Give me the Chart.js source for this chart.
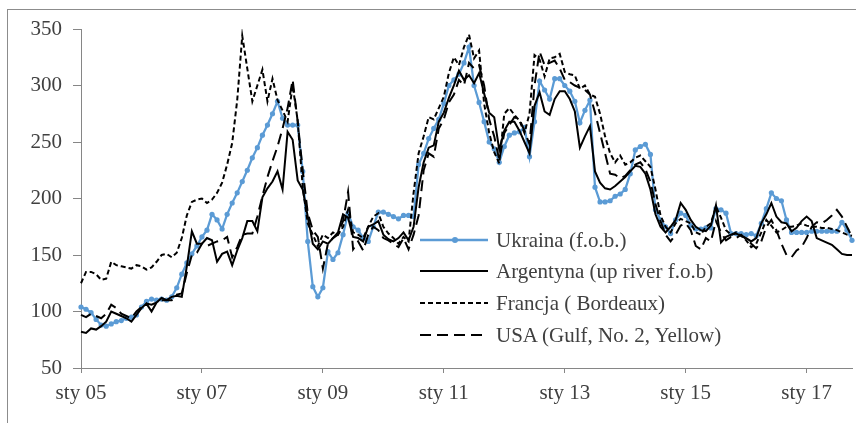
<!DOCTYPE html>
<html>
<head>
<meta charset="utf-8">
<title>Ceny kukurydzy</title>
<script src="https://cdn.jsdelivr.net/npm/chart.js"></script>
<style>
    html, body { margin: 0; padding: 0; background: #fff; }
    #wrap { position: relative; width: 856px; height: 423px; overflow: hidden; }
    #ramka { position: absolute; left: 7px; top: 9px; width: 900px; height: 500px; border: 1px solid #8c8c8c; }
    #wykres { position: absolute; left: 0; top: 0; }
    .wiersz { position: absolute; left: 420px; height: 24px; display: flex; align-items: center; white-space: nowrap;
              font-family: "Liberation Serif", "Times New Roman", serif; font-size: 21px; color: #404040; }
    .wiersz svg { margin-right: 8px; }
</style>
</head>
<body>
<div id="wrap">
    <div id="ramka"></div>
    <canvas id="wykres" width="856" height="423"></canvas>
    <div id="legenda"></div>
</div>
<script>
// Dane (USD/t), miesięcznie od sty 05 do paź 17
var _miesiace = ['sty', 'lut', 'mar', 'kwi', 'maj', 'cze', 'lip', 'sie', 'wrz', 'paź', 'lis', 'gru'];
var _lata = ['05', '06', '07', '08', '09', '10', '11', '12', '13', '14', '15', '16', '17'];
var _ostatniMiesiac = 10; // 2017 kończy się na październiku

var _ukraina = [
    104, 102, 99, 93, 88, 87, 89, 91, 92, 94, 95, 97,
    104, 109, 111, 110, 111, 110, 113, 121, 133, 143, 151, 158,
    166, 172, 186, 181, 173, 186, 196, 205, 215, 225, 236, 245,
    256, 265, 275, 286, 271, 265, 265, 265, 224, 162, 122, 113,
    121, 153, 146, 152, 168, 187, 175, 172, 165, 162, 175, 188,
    188, 186, 184, 182, 185, 185, 184, 230, 240, 253, 262, 270,
    284, 300, 305, 310, 320, 334, 300, 285, 268, 250, 244, 232,
    246, 256, 258, 259, 263, 237, 268, 304, 296, 288, 306, 306,
    300, 295, 286, 267, 278, 287, 210, 197, 197, 198, 202, 204,
    208, 222, 243, 246, 248, 239, 190, 181, 175, 169, 181, 187,
    185, 176, 173, 173, 174, 174, 191, 190, 187, 169, 169, 169,
    168, 169, 167, 178, 191, 205, 200, 198, 181, 170, 170, 170,
    170, 171, 171, 171, 171, 171, 171, 179, 172, 163
];
var _argentyna = [
    82, 81, 85, 84, 87, 91, 100, 98, 96, 94, 91, 97,
    103, 107, 100, 108, 112, 110, 113, 114, 113, 140, 171, 160,
    160, 165, 163, 144, 151, 153, 141, 154, 165, 180, 180, 171,
    201, 209, 215, 224, 208, 259, 252, 216, 208, 184, 160, 155,
    162, 160, 165, 170, 186, 183, 166, 165, 162, 175, 177, 180,
    168, 164, 162, 165, 170, 163, 175, 210, 232, 245, 247, 268,
    276, 289, 300, 313, 305, 309, 302, 311, 293, 276, 272, 243,
    260, 268, 268, 260, 250, 240, 282, 294, 277, 274, 288, 295,
    295, 288, 277, 245, 255, 264, 224, 214, 209, 208, 211, 215,
    219, 224, 229, 228, 222, 208, 186, 175, 170, 175, 181, 196,
    190, 181, 175, 172, 171, 176, 194, 161, 166, 168, 169, 167,
    165, 162, 165, 178, 186, 196, 184, 179, 178, 171, 174, 180,
    184, 180, 165, 163, 161, 159, 155, 151, 150, 150
];
var _francja = [
    125, 135, 135, 133, 128, 129, 144, 141, 140, 139, 138, 141,
    140, 137, 139, 144, 150, 151, 148, 152, 165, 185, 197, 199,
    200, 196, 199, 205, 214, 230, 249, 287, 344, 315, 286, 300,
    314, 286, 306, 287, 278, 268, 300, 269, 210, 178, 168, 158,
    168, 165, 170, 168, 175, 190, 170, 168, 165, 175, 184, 187,
    175, 169, 165, 160, 166, 162, 205, 240, 255, 272, 270, 280,
    290, 311, 325, 318, 334, 345, 324, 331, 284, 258, 241, 231,
    275, 280, 274, 269, 258, 275, 327, 323, 308, 324, 325, 328,
    312, 310, 309, 297, 300, 292, 290, 275, 255, 240, 232, 238,
    230, 232, 236, 238, 233, 228, 208, 185, 175, 170, 178, 182,
    180, 178, 170, 168, 175, 178, 193, 183, 172, 168, 170, 167,
    163, 157, 160, 170, 181, 176, 170, 172, 175, 175, 176, 178,
    176, 175, 175, 174, 174, 173, 172, 170, 168, 167
];
var _usa = [
    97, 95, 98, 96, 94, 98, 106, 103, 98, 96, 94, 100,
    104, 107, 106, 108, 110, 110, 110, 115, 116, 134, 150, 152,
    160, 158, 160, 162, 163, 166, 148, 157, 168, 169, 169, 184,
    202, 219, 233, 246, 262, 280, 305, 268, 225, 187, 172, 166,
    138, 160, 165, 168, 180, 206, 155, 162, 154, 168, 175, 172,
    165, 163, 160, 157, 165, 155, 168, 185, 225, 240, 237, 262,
    270, 285, 292, 305, 300, 320, 315, 318, 300, 270, 255, 234,
    258, 265, 272, 270, 260, 248, 300, 330, 318, 320, 322, 315,
    305, 303, 300, 298, 296, 292, 276, 258, 240, 222, 221, 218,
    220, 225, 230, 232, 226, 215, 195, 180, 168, 162, 168, 176,
    178, 172, 158, 155, 165, 162, 180, 170, 163, 166, 165, 168,
    164, 160, 156, 162, 175, 181, 172, 160, 150, 148, 154, 157,
    165, 175, 179, 178, 181, 185, 190, 184, 175, 166
];

var _nazwy = ['Ukraina (f.o.b.)', 'Argentyna (up river f.o.b)', 'Francja ( Bordeaux)', 'USA (Gulf, No. 2, Yellow)'];
var _yTicks = [50, 100, 150, 200, 250, 300, 350];

var _czcionka = { family: '"Liberation Serif", "Times New Roman", serif', size: 21 };
var _szary = '#868686';
var _niebieski = '#5b9bd5';

function budujEtykiety() {
    var labels = [];
    for (var r = 0; r < _lata.length; r++) {
        for (var m = 0; m < 12; m++) {
            if (r === _lata.length - 1 && m >= _ostatniMiesiac) break;
            labels.push(_miesiace[m] + ' ' + _lata[r]);
        }
    }
    return labels;
}

function renderLegenda() {
    var wiersze = [
        { y: 240, svg: '<line x1="0" y1="12" x2="68" y2="12" stroke="' + _niebieski + '" stroke-width="2.5"/><circle cx="35" cy="12" r="3" fill="' + _niebieski + '"/>' },
        { y: 271, svg: '<line x1="0" y1="12" x2="68" y2="12" stroke="#000" stroke-width="2"/>' },
        { y: 303, svg: '<line x1="0" y1="12" x2="68" y2="12" stroke="#000" stroke-width="2" stroke-dasharray="5,3"/>' },
        { y: 335, svg: '<line x1="0" y1="12" x2="68" y2="12" stroke="#000" stroke-width="2" stroke-dasharray="11,6"/>' }
    ];
    var html = '';
    wiersze.forEach(function (w, i) {
        html += '<div class="wiersz" style="top:' + (w.y - 12) + 'px">' +
            '<svg width="68" height="24">' + w.svg + '</svg><span>' + _nazwy[i] + '</span></div>';
    });
    document.getElementById('legenda').innerHTML = html;
}

function renderWykres() {
    var labels = budujEtykiety();
    var ctx = document.getElementById('wykres').getContext('2d');
    new Chart(ctx, {
        type: 'line',
        data: {
            labels: labels,
            datasets: [{
                label: _nazwy[0],
                data: _ukraina,
                borderColor: _niebieski,
                backgroundColor: _niebieski,
                borderWidth: 2.25,
                pointRadius: 2.6,
                pointBorderWidth: 0,
                pointBackgroundColor: _niebieski,
                order: 4
            }, {
                label: _nazwy[1],
                data: _argentyna,
                borderColor: '#000',
                borderWidth: 2,
                pointRadius: 0,
                order: 3
            }, {
                label: _nazwy[2],
                data: _francja,
                borderColor: '#000',
                borderWidth: 2,
                borderDash: [5, 3],
                pointRadius: 0,
                order: 2
            }, {
                label: _nazwy[3],
                data: _usa,
                borderColor: '#000',
                borderWidth: 2,
                borderDash: [11, 6],
                pointRadius: 0,
                order: 1
            }]
        },
        options: {
            responsive: false,
            animation: false,
            layout: { padding: { left: 0, right: 3.6, top: 29, bottom: 0 } },
            plugins: { legend: { display: false }, tooltip: { enabled: false } },
            elements: { line: { tension: 0 } },
            scales: {
                x: {
                    type: 'category',
                    offset: false,
                    grid: { drawOnChartArea: false, drawTicks: true, tickLength: 5, color: _szary },
                    border: { display: true, color: _szary, width: 1 },
                    ticks: {
                        autoSkip: false,
                        maxRotation: 0,
                        padding: 8,
                        color: '#404040',
                        font: _czcionka,
                        callback: function (val, idx) {
                            // tylko styczeń co drugi rok
                            return idx % 24 === 0 ? this.getLabelForValue(val) : null;
                        }
                    },
                    afterFit: function (s) { s.height = 55; }
                },
                y: {
                    min: _yTicks[0],
                    max: _yTicks[_yTicks.length - 1],
                    grid: { drawOnChartArea: false, drawTicks: true, tickLength: 8, color: _szary },
                    border: { display: true, color: _szary, width: 1 },
                    ticks: { stepSize: 50, padding: 11, color: '#404040', font: _czcionka },
                    afterFit: function (s) { s.width = 81; }
                }
            }
        }
    });
}

renderLegenda();
renderWykres();
</script>
</body>
</html>
